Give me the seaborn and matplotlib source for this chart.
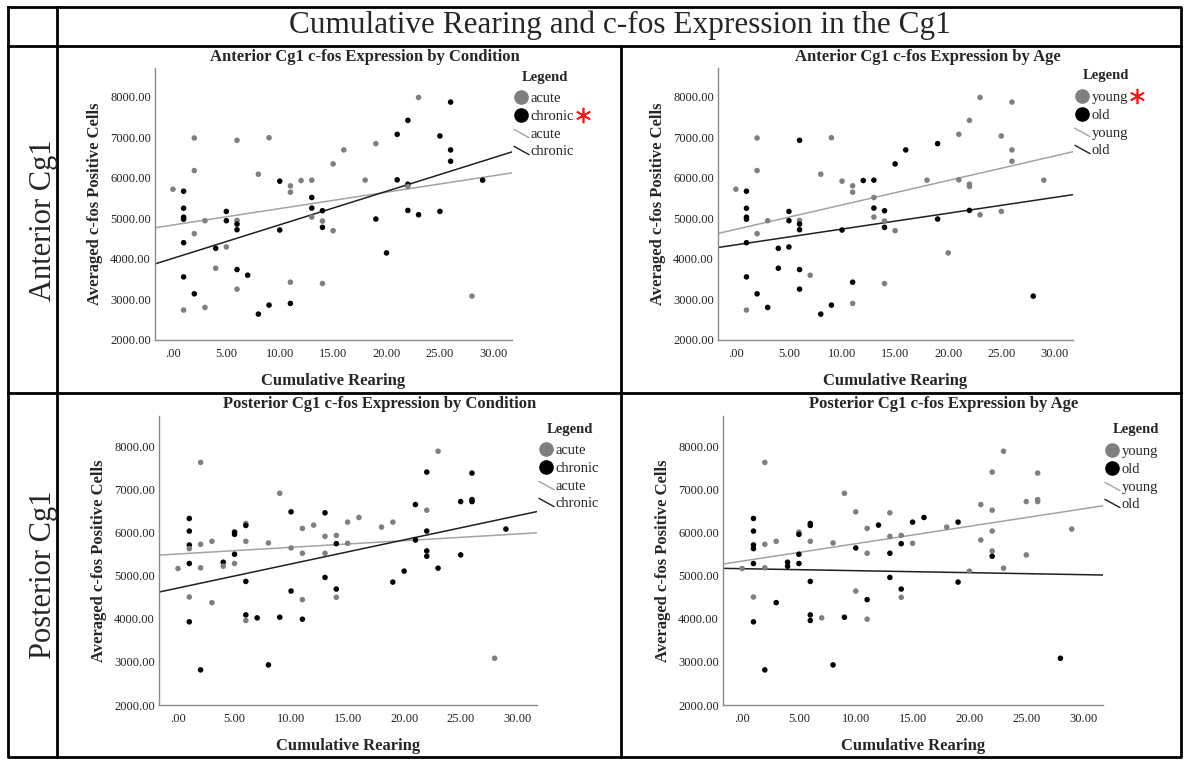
import numpy as np
import pandas as pd
import matplotlib
matplotlib.use("Agg")
import matplotlib.pyplot as plt
import seaborn as sns
from matplotlib.lines import Line2D
from matplotlib.path import Path
from matplotlib.ticker import FuncFormatter

# ── Anterior Cg1 (one entry per animal, grouped by rearing count) ─────────────
ant_rearing = [0, 1, 1, 1, 1, 1, 1, 1, 2, 2, 2, 2, 3, 3, 4, 4, 5, 5, 5,
               6, 6, 6, 6, 6, 6, 7, 8, 8, 9, 9, 10, 10, 11, 11, 11, 11, 12,
               13, 13, 13, 13, 14, 14, 14, 14, 15, 15, 16, 18, 19, 19, 20,
               21, 21, 22, 22, 22, 22, 23, 23, 25, 25, 26, 26, 26, 28, 29]
ant_cfos = [5720, 5670, 5250, 5030, 4980, 4400, 3557, 2738, 6984, 6180, 4623, 3139,
            4943, 2803, 4262, 3770, 5172, 4943, 4295,
            6926, 4950, 4861, 4721, 3738, 3254, 3598, 6090, 2639, 6990, 2861,
            5918, 4713, 5803, 5647, 3426, 2902, 5934,
            5943, 5516, 5254, 5033, 5189, 4934, 4779, 3393, 6344, 4697, 6689,
            5943, 6844, 4984, 4148,
            7074, 5951, 7418, 5844, 5787, 5197, 7984, 5090, 7033, 5172,
            7869, 6689, 6410, 3082, 5943]
ant_condition = ["acute", "chronic", "chronic", "chronic", "chronic", "chronic", "chronic", "acute",
                 "acute", "acute", "acute", "chronic", "acute", "acute", "chronic", "acute",
                 "chronic", "chronic", "acute",
                 "acute", "acute", "chronic", "chronic", "chronic", "acute", "chronic",
                 "acute", "chronic", "acute", "chronic", "chronic", "chronic",
                 "acute", "acute", "acute", "chronic", "acute",
                 "acute", "chronic", "chronic", "acute", "chronic", "acute", "chronic", "acute",
                 "acute", "acute", "acute", "acute", "acute", "chronic", "chronic",
                 "chronic", "chronic", "chronic", "chronic", "acute", "chronic", "acute", "chronic",
                 "chronic", "chronic", "chronic", "chronic", "chronic", "acute", "chronic"]
ant_age = ["young", "old", "old", "old", "old", "old", "old", "young",
           "young", "young", "young", "old", "young", "old", "old", "old",
           "old", "old", "old",
           "old", "young", "old", "old", "old", "old", "young",
           "young", "old", "young", "old", "young", "old",
           "young", "young", "old", "young", "old",
           "old", "young", "old", "young", "old", "young", "old", "young",
           "old", "young", "old", "young", "old", "old", "young",
           "young", "young", "young", "young", "young", "old", "young", "young",
           "young", "young", "young", "young", "young", "old", "young"]

# ── Posterior Cg1 ─────────────────────────────────────────────────────────────
post_rearing = [0, 1, 1, 1, 1, 1, 1, 1, 2, 2, 2, 2, 3, 3, 4, 4, 5, 5, 5, 5,
                6, 6, 6, 6, 6, 6, 7, 8, 8, 9, 9, 10, 10, 10, 11, 11, 11, 11, 12,
                13, 13, 13, 13, 14, 14, 14, 14, 15, 15, 16, 18, 19, 19, 20,
                21, 21, 22, 22, 22, 22, 22, 23, 23, 25, 25, 26, 26, 26, 28, 29]
post_cfos = [5169, 6331, 6038, 5715, 5631, 5285, 4508, 3931, 7631, 5731, 5185, 2815,
             5800, 4377, 5315, 5223, 6015, 5962, 5500, 5285,
             6215, 6169, 5800, 4869, 4092, 3962, 4023, 5762, 2931, 6915, 4038,
             6485, 5646, 4646, 6100, 5523, 4446, 3992, 6177,
             6462, 5915, 5523, 4962, 5938, 5746, 4692, 4500, 6246, 5754, 6354,
             6131, 6246, 4854, 5108,
             6654, 5831, 7408, 6523, 6038, 5577, 5454, 7892, 5177, 6723, 5485,
             7385, 6769, 6723, 3085, 6085]
post_condition = ["acute", "chronic", "chronic", "chronic", "acute", "chronic", "acute", "chronic",
                  "acute", "acute", "acute", "chronic", "acute", "acute", "chronic", "acute",
                  "chronic", "chronic", "chronic", "acute",
                  "acute", "chronic", "acute", "chronic", "chronic", "acute", "chronic",
                  "acute", "chronic", "acute", "chronic",
                  "chronic", "acute", "chronic", "acute", "acute", "acute", "chronic", "acute",
                  "chronic", "acute", "acute", "chronic", "acute", "chronic", "chronic", "acute",
                  "acute", "acute", "acute", "acute", "acute", "chronic", "chronic",
                  "chronic", "chronic", "chronic", "acute", "chronic", "chronic", "chronic",
                  "acute", "chronic", "chronic", "chronic",
                  "chronic", "chronic", "chronic", "acute", "chronic"]
post_age = ["young", "old", "old", "old", "old", "old", "young", "old",
            "young", "young", "young", "old", "young", "old", "old", "old",
            "young", "old", "old", "old",
            "old", "old", "young", "old", "old", "old", "young",
            "young", "old", "young", "old",
            "young", "old", "young", "young", "young", "old", "young", "old",
            "young", "young", "old", "old", "young", "old", "old", "young",
            "old", "young", "old", "young", "old", "old", "young",
            "young", "young", "young", "young", "young", "young", "old",
            "young", "young", "young", "young",
            "young", "young", "young", "old", "young"]

condition_levels = ["acute", "chronic"]
age_levels = ["young", "old"]
x_ticks = [0, 5, 10, 15, 20, 25, 30]
y_ticks = [2000, 3000, 4000, 5000, 6000, 7000, 8000]

HEADER = "Cumulative Rearing and c-fos Expression in the Cg1"
ROW_LABELS = ["Anterior Cg1", "Posterior Cg1"]

ant = pd.DataFrame({"rearing": ant_rearing, "cfos": ant_cfos,
                    "condition": ant_condition, "age": ant_age})
post = pd.DataFrame({"rearing": post_rearing, "cfos": post_cfos,
                     "condition": post_condition, "age": post_age})

# ── Style ─────────────────────────────────────────────────────────────────────
W, H = 1188, 763
sns.set_style("white")
plt.rcParams["font.family"] = ["Liberation Serif", "DejaVu Serif"]

PT_COLORS = ["#7f7f7f", "#000000"]
LINE_COLORS = ["#a3a3a3", "#1f1f1f"]
XLIM = (-1.68, 31.75)
YLIM = (2000, 8710)

fig = plt.figure(figsize=(W / 100, H / 100), dpi=100)
bg = fig.add_axes([0, 0, 1, 1])
bg.set_xlim(0, W)
bg.set_ylim(H, 0)
bg.axis("off")


def px_axes(l, t, r, b):
    return fig.add_axes([l / W, 1 - b / H, (r - l) / W, (b - t) / H])


def fmt(v, pos):
    s = f"{v:.2f}"
    return s[1:] if s.startswith("0") else s


# table frame
tl = dict(color="black", lw=2.0, solid_capstyle="projecting")
L, R, T, B = 8, 1181, 7, 757
bg.plot([L, R, R, L, L], [T, T, B, B, T], **tl)
bg.plot([57, 57], [T, B], **tl)
bg.plot([L, R], [46, 46], **tl)
bg.plot([L, R], [393, 393], **tl)
bg.plot([621, 621], [46, B], **tl)

bg.text(620, 25, HEADER, ha="center", va="center", fontsize=22.5)
bg.text(44, 220, ROW_LABELS[0], ha="center", va="center", rotation=90, fontsize=22)
bg.text(44, 575, ROW_LABELS[1], ha="center", va="center", rotation=90, fontsize=22)

diag = Path([(-1.0, 0.55), (1.0, -0.55)], [Path.MOVETO, Path.LINETO])
legends = []


def draw_panel(rect, df, hue, levels, title, title_xy, leg_xy, star=None):
    ax = px_axes(*rect)
    ax.set_xlim(XLIM)
    ax.set_ylim(YLIM)
    sns.scatterplot(data=df, x="rearing", y="cfos", hue=hue, hue_order=levels,
                    palette=PT_COLORS, s=16, linewidth=0, legend=False, ax=ax, zorder=3)
    for lev, col in zip(levels, LINE_COLORS):
        sns.regplot(data=df[df[hue] == lev], x="rearing", y="cfos", scatter=False,
                    ci=None, truncate=False, color=col, line_kws={"lw": 1.1}, ax=ax)
    ax.set_xlim(XLIM)
    ax.set_ylim(YLIM)
    ax.set_xticks(x_ticks)
    ax.set_yticks(y_ticks)
    ax.xaxis.set_major_formatter(FuncFormatter(fmt))
    ax.yaxis.set_major_formatter(FuncFormatter(fmt))
    ax.tick_params(length=0, labelsize=9, pad=3, colors="#222222")
    ax.tick_params(axis="x", pad=6)
    for s in ["top", "right"]:
        ax.spines[s].set_visible(False)
    for s in ["left", "bottom"]:
        ax.spines[s].set_color("#8a8a8a")
        ax.spines[s].set_linewidth(1.0)
    ax.set_xlabel("Cumulative Rearing", fontsize=12, fontweight="bold", labelpad=9)
    ax.set_ylabel("Averaged c-fos Positive Cells", fontsize=12, fontweight="bold", labelpad=5)
    ax.set_facecolor("none")

    bg.text(title_xy[0], title_xy[1], title, ha="center", va="center",
            fontsize=12, fontweight="bold")

    handles = [Line2D([], [], ls="none", marker="o", markersize=9.5,
                      markerfacecolor=c, markeredgecolor=c) for c in PT_COLORS]
    handles += [Line2D([], [], ls="none", marker=diag, markersize=11.5,
                       markeredgecolor=c, markeredgewidth=1.0) for c in LINE_COLORS]
    leg = ax.legend(handles, levels + levels, loc="upper left",
                    bbox_to_anchor=leg_xy, bbox_transform=bg.transData,
                    frameon=False, fontsize=10.5, borderpad=0, labelspacing=0.3,
                    handlelength=0.9, handletextpad=0.25, borderaxespad=0)
    legends.append((leg, leg_xy, star))
    return ax


# leg_xy = (left edge, wanted centre of first legend row) in pixels
draw_panel((155, 68, 512, 340), ant, "condition", condition_levels,
           "Anterior Cg1 c-fos Expression by Condition", (365, 57), (514, 99), star=1)
draw_panel((718, 68, 1073, 340), ant, "age", age_levels,
           "Anterior Cg1 c-fos Expression by Age", (928, 57), (1075, 98), star=0)
draw_panel((159, 416, 537, 705), post, "condition", condition_levels,
           "Posterior Cg1 c-fos Expression by Condition", (380, 404), (539, 451))
draw_panel((723, 416, 1103, 705), post, "age", age_levels,
           "Posterior Cg1 c-fos Expression by Age", (944, 404), (1105, 452))

# shift each legend so its first row sits where wanted, then add title + asterisk
fig.canvas.draw()
for leg, (lx, ly), star in legends:
    bb = leg.get_texts()[0].get_window_extent()
    cy = H - (bb.y0 + bb.y1) / 2
    leg.set_bbox_to_anchor((lx, ly + (ly - cy)), transform=bg.transData)
fig.canvas.draw()
for leg, (lx, ly), star in legends:
    mk = leg.legend_handles[0].get_window_extent()
    cx = (mk.x0 + mk.x1) / 2
    bg.text(cx + 24, ly - 22, "Legend", ha="center", va="center",
            fontsize=10.5, fontweight="bold")
    if star is not None:
        tb = leg.get_texts()[star].get_window_extent()
        bg.plot(tb.x1 + 9, H - (tb.y0 + tb.y1) / 2 - 2, ls="none",
                marker=(6, 2, 0), markersize=11, markeredgewidth=1.2,
                color="#f01818")

fig.savefig("out.png", dpi=100)
